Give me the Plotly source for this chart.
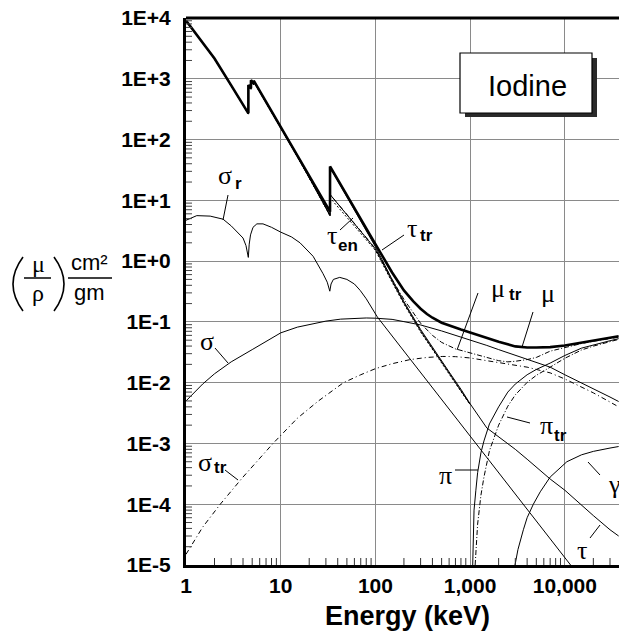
import math
import plotly.graph_objects as go

# ---------------- data (energy in keV, mass coefficients in cm^2/g) ----------------
E_mu = [1, 1.5, 2, 3, 4, 4.557, 4.557, 4.852, 4.852, 5.188, 5.188, 6, 8, 10, 15, 20, 30,
        33.17, 33.17, 40, 50, 60, 80, 100, 150, 200, 250, 300, 350, 400, 500, 600, 800, 1000, 1500,
        2000, 3000, 4000, 5000, 7000, 10000, 15000, 20000, 30000, 37000]
mu = [9100, 3900, 2150, 780, 380, 270, 790, 700, 950, 830, 930, 630, 293, 161, 54.7, 25.4, 8.6,
      6.5, 36, 22, 12.3, 7.6, 3.6, 1.9, 0.65, 0.33, 0.22, 0.165, 0.135, 0.117, 0.097, 0.087, 0.075,
      0.067, 0.054, 0.047, 0.0395, 0.038, 0.038, 0.0385, 0.041, 0.046, 0.050, 0.055, 0.058]

E_tau = [1, 1.5, 2, 3, 4, 4.557, 4.557, 4.852, 4.852, 5.188, 5.188, 6, 8, 10, 15, 20, 30,
         33.17, 33.17, 40, 50, 60, 80, 100, 150, 200, 300, 400, 500, 600, 800, 1000, 1500,
         2000, 3000, 4000, 5000, 7000, 10000, 15000, 20000, 30000, 37000]
tau = [9095, 3895, 2145, 775, 376, 266, 786, 696, 946, 826, 926, 626, 290, 158, 53, 24, 7.6,
       5.7, 35, 21, 11.5, 7.0, 3.2, 1.72, 0.50, 0.215, 0.075, 0.038, 0.023, 0.015, 0.0078, 0.0045, 0.0018,
       0.0013, 0.0008, 0.00055, 0.00041, 0.00026, 0.00017, 0.000096, 0.000065, 0.000038, 0.00003]

E_tau_tr = [1, 2, 4, 4.557, 4.557, 4.852, 4.852, 5.188, 5.188, 8, 15, 30, 33.17, 33.17,
            40, 50, 60, 80, 100, 150, 200, 300, 500, 1000]
tau_tr = [9000, 2120, 372, 264, 770, 680, 925, 805, 900, 287, 53, 7.5, 5.6, 12.5,
          8.8, 5.9, 4.1, 2.4, 1.58, 0.47, 0.205, 0.071, 0.022, 0.0044]

E_tau_en = [1, 2, 4, 4.557, 4.557, 4.852, 4.852, 5.188, 5.188, 8, 15, 30, 33.17, 33.17,
            40, 50, 60, 80, 100, 150, 200, 300, 500, 1000]
tau_en = [8950, 2100, 368, 262, 760, 670, 915, 795, 890, 284, 52, 7.4, 5.5, 11,
          7.9, 5.3, 3.8, 2.25, 1.50, 0.45, 0.197, 0.068, 0.021, 0.0043]

E_mu_tr = [1, 2, 4, 4.557, 4.557, 4.852, 4.852, 5.188, 5.188, 8, 15, 30, 33.17, 33.17,
           40, 50, 60, 80, 100, 150, 200, 300, 400, 500, 700, 1000, 1500, 2000, 2500, 3000,
           4000, 5000, 7000, 10000, 15000, 20000, 30000, 37000]
mu_tr = [9000, 2120, 372, 264, 770, 680, 925, 805, 900, 287, 53, 7.5, 5.6, 12.5,
         8.9, 6.0, 4.2, 2.45, 1.6, 0.50, 0.235, 0.095, 0.06, 0.046, 0.036, 0.031, 0.026, 0.023, 0.022, 0.0225,
         0.024, 0.026, 0.033, 0.038, 0.044, 0.048, 0.053, 0.056]

E_sig = [1, 1.5, 2, 3, 5, 7, 10, 15, 20, 30, 43, 60, 80, 100, 150, 200, 300, 500, 700, 1000,
         1500, 2000, 3000, 4000, 5000, 7000, 10000, 15000, 20000, 30000, 37000]
sig = [0.0050, 0.0095, 0.0140, 0.022, 0.035, 0.047, 0.066, 0.082, 0.091, 0.103, 0.111, 0.115, 0.116,
       0.115, 0.110, 0.101, 0.089, 0.071, 0.060, 0.051, 0.041, 0.035, 0.028, 0.024, 0.0215, 0.018,
       0.0135, 0.0100, 0.0080, 0.0058, 0.0049]

E_sig_tr = [1, 1.5, 2.3, 4, 8.3, 15, 25, 46, 70, 100, 150, 233, 350, 515, 700, 1000, 1500, 2000,
            3000, 4000, 5000, 7000, 10000, 15000, 20000, 30000, 37000]
sig_tr = [1.5e-5, 4.2e-5, 1.0e-4, 2.8e-4, 1.0e-3, 2.6e-3, 5.0e-3, 1.0e-2, 0.0135, 0.017, 0.0205,
          0.024, 0.026, 0.027, 0.0268, 0.0255, 0.023, 0.0215, 0.0195, 0.018, 0.0165, 0.0145,
          0.0115, 0.0085, 0.0068, 0.0048, 0.0040]

E_sig_r = [1, 1.3, 1.8, 2.46, 3.0, 3.5, 4.0, 4.3, 4.45, 4.55, 4.65, 4.8, 5.1, 5.6, 6.5, 8, 10, 13,
           16, 22, 28, 31, 33, 34, 36, 42, 50, 60, 69, 80, 105, 150, 200, 300, 500, 1000, 2000,
           5000, 10000, 11500]
sig_r = [4.7, 5.6, 5.5, 4.9, 3.8, 3.0, 2.4, 1.8, 1.4, 1.15, 1.9, 2.7, 3.6, 4.1, 4.1, 3.6, 3.0, 2.5,
         2.0, 1.2, 0.62, 0.45, 0.32, 0.42, 0.5, 0.54, 0.5, 0.42, 0.33, 0.24, 0.12, 0.059, 0.033,
         0.0148, 0.0053, 0.00133, 0.00033, 0.000053, 0.0000133, 0.00001]

E_pi = [1065, 1100, 1150, 1200, 1300, 1400, 1600, 2000, 2500, 3000, 4000, 5000, 7000, 10000,
        15000, 20000, 30000, 37000]
pi = [1e-5, 8e-5, 1.7e-4, 3.3e-4, 7e-4, 1.1e-3, 2.1e-3, 4.0e-3, 7.0e-3, 9.5e-3, 0.0135, 0.0165,
      0.021, 0.028, 0.037, 0.042, 0.049, 0.053]

E_pi_tr = [1130, 1150, 1200, 1300, 1400, 1600, 2000, 2500, 3000, 4000, 5000, 7000, 10000, 15000,
           20000, 30000, 37000]
pi_tr = [1e-5, 1.8e-5, 4.7e-5, 1.4e-4, 2.8e-4, 7.6e-4, 2.0e-3, 4.1e-3, 6.3e-3, 0.0101, 0.0132,
         0.0180, 0.0252, 0.0345, 0.0399, 0.0473, 0.0515]

E_gam = [2980, 3200, 3650, 4000, 4650, 5500, 7000, 10500, 15000, 20000, 30000, 37000]
gam = [1e-5, 1.8e-5, 3.8e-5, 6e-5, 1.0e-4, 1.6e-4, 2.8e-4, 5.0e-4, 6.5e-4, 7.4e-4, 8.4e-4, 8.9e-4]

x_tickvals = [1, 10, 100, 1000, 10000]
x_ticktext = ["1", "10", "100", "1,000", "10,000"]
y_tickvals = [1e-5, 1e-4, 1e-3, 1e-2, 1e-1, 1, 10, 100, 1000, 10000]
y_ticktext = ["1E-5", "1E-4", "1E-3", "1E-2", "1E-1", "1E+0", "1E+1", "1E+2", "1E+3", "1E+4"]

# ---------------- figure ----------------
W, H = 619, 634
L, R, T, B = 186, 619, 18, 565
PW, PH = R - L, B - T
XR = [0, 4.572]
YR = [-5, 4]


def px(x):
    return (x - L) / PW


def py(y):
    return (B - y) / PH


fig = go.Figure()


def add(E, v, width=1.0, dash="solid"):
    fig.add_trace(go.Scatter(x=E, y=v, mode="lines",
                             line=dict(color="black", width=width, dash=dash),
                             hoverinfo="skip", showlegend=False))


add(E_sig_r, sig_r)
add(E_sig, sig)
add(E_sig_tr, sig_tr, dash="5px,3px,1px,3px")
add(E_pi, pi)
add(E_pi_tr, pi_tr, dash="5px,2px,1px,2px")
add(E_gam, gam)
add(E_tau, tau)
add(E_tau_tr, tau_tr)
add(E_tau_en, tau_en, dash="2px,2px")
add(E_mu_tr, mu_tr, dash="5px,2px,1px,2px")
add(E_mu, mu, width=2.6)

SANS = "Liberation Sans"
SERIF = "Liberation Serif"

fig.update_layout(
    width=W, height=H,
    margin=dict(l=L, r=W - R, t=T, b=H - B, autoexpand=False),
    paper_bgcolor="white", plot_bgcolor="white",
    xaxis=dict(type="log", range=XR, tickmode="array", tickvals=x_tickvals,
               ticktext=x_ticktext, ticks="", ticklabelstandoff=0,
               tickfont=dict(family=SANS, size=21, color="black", weight="bold"),
               showgrid=True, gridcolor="#8a8a8a", gridwidth=1,
               showline=True, linecolor="black", linewidth=3, zeroline=False),
    yaxis=dict(type="log", range=YR, tickmode="array", tickvals=y_tickvals,
               ticktext=y_ticktext, ticks="", ticklabelstandoff=8,
               tickfont=dict(family=SANS, size=21, color="black", weight="bold"),
               showgrid=True, gridcolor="#8a8a8a", gridwidth=1,
               showline=True, linecolor="black", linewidth=3, zeroline=False),
)

shapes = []
# minor tick marks (inside), placed at the log positions of 2..9 of each decade
for k in range(0, 5):
    for m in range(2, 10):
        lx = math.log10(m * 10 ** k)
        if lx < XR[1]:
            xp = (lx - XR[0]) / (XR[1] - XR[0])
            shapes.append(dict(type="line", xref="paper", yref="paper", x0=xp, x1=xp,
                               y0=0, y1=7 / PH, line=dict(color="#333", width=1), layer="above"))
for k in range(-5, 4):
    for m in range(2, 10):
        ly = math.log10(m) + k
        yp = (ly - YR[0]) / (YR[1] - YR[0])
        shapes.append(dict(type="line", xref="paper", yref="paper", x0=0, x1=6 / PW,
                           y0=yp, y1=yp, line=dict(color="#444", width=1), layer="above"))
# top border
shapes.append(dict(type="line", xref="paper", yref="paper", x0=0, x1=1, y0=1, y1=1,
                   line=dict(color="black", width=3), layer="above"))
# Iodine box with shadow
shapes.append(dict(type="rect", xref="paper", yref="paper", x0=px(465), x1=px(597), y0=py(117), y1=py(58),
                   fillcolor="#2a2a2a", line=dict(width=0), layer="above"))
shapes.append(dict(type="rect", xref="paper", yref="paper", x0=px(460), x1=px(592), y0=py(113), y1=py(53),
                   fillcolor="white", line=dict(color="black", width=1.2), layer="above"))
# y title: parentheses and fraction bars
shapes.append(dict(type="path", xref="paper", yref="paper",
                   path="M %f %f Q %f %f %f %f" % (px(23), py(257), px(3), py(284), px(23), py(311)),
                   line=dict(color="black", width=1.6)))
shapes.append(dict(type="path", xref="paper", yref="paper",
                   path="M %f %f Q %f %f %f %f" % (px(54), py(257), px(74), py(284), px(54), py(311)),
                   line=dict(color="black", width=1.6)))
shapes.append(dict(type="line", xref="paper", yref="paper", x0=px(24), x1=px(51), y0=py(278), y1=py(278),
                   line=dict(color="black", width=1.5)))
shapes.append(dict(type="line", xref="paper", yref="paper", x0=px(68), x1=px(112), y0=py(278), y1=py(278),
                   line=dict(color="black", width=1.5)))
# leaders
leaders = [((228, 195), (223, 220)), ((340, 230), (353, 218)), ((404, 235), (382, 250)),
           ((478, 293), (457, 350)), ((533, 312), (522, 347)), ((215, 348), (228, 363)),
           ((225, 470), (238, 480)), ((530, 423), (507, 417)), ((455, 470), (478, 470)),
           ((588, 462), (600, 475)), ((590, 538), (600, 525))]
for (a, b) in leaders:
    shapes.append(dict(type="line", xref="paper", yref="paper", x0=px(a[0]), y0=py(a[1]),
                       x1=px(b[0]), y1=py(b[1]), line=dict(color="black", width=1), layer="above"))
fig.update_layout(shapes=shapes)

ann = []


def text(x, y, s, size, family=SANS, weight="normal"):
    ann.append(dict(x=px(x), y=py(y), xref="paper", yref="paper", text=s, showarrow=False,
                    xanchor="center", yanchor="middle",
                    font=dict(family=family, size=size, color="black", weight=weight)))


text(527, 86, "Iodine", 29)
text(407, 616, "Energy (keV)", 27, weight="bold")
# y title
text(38, 264, "μ", 24, SERIF)
text(38, 293, "ρ", 24, SERIF)
text(89, 262, "cm²", 22)
text(89, 292, "gm", 22)
# curve labels
GS = 26
SS = 17
text(225, 175, "σ", GS, SERIF); text(238, 183, "r", SS, weight="bold")
text(332, 235, "τ", GS, SERIF); text(348, 245, "en", SS, weight="bold")
text(412, 229, "τ", GS, SERIF); text(426, 235, "tr", SS, weight="bold")
text(498, 288, "μ", GS, SERIF); text(515, 294, "tr", SS, weight="bold")
text(548, 293, "μ", GS, SERIF)
text(207, 341, "σ", GS, SERIF)
text(205, 462, "σ", GS, SERIF); text(220, 467, "tr", SS, weight="bold")
text(546, 426, "π", GS, SERIF); text(560, 435, "tr", SS, weight="bold")
text(445, 475, "π", GS, SERIF)
text(614, 484, "γ", GS, SERIF)
text(582, 550, "τ", GS, SERIF)
fig.update_layout(annotations=ann)

fig.write_html("out.html")
